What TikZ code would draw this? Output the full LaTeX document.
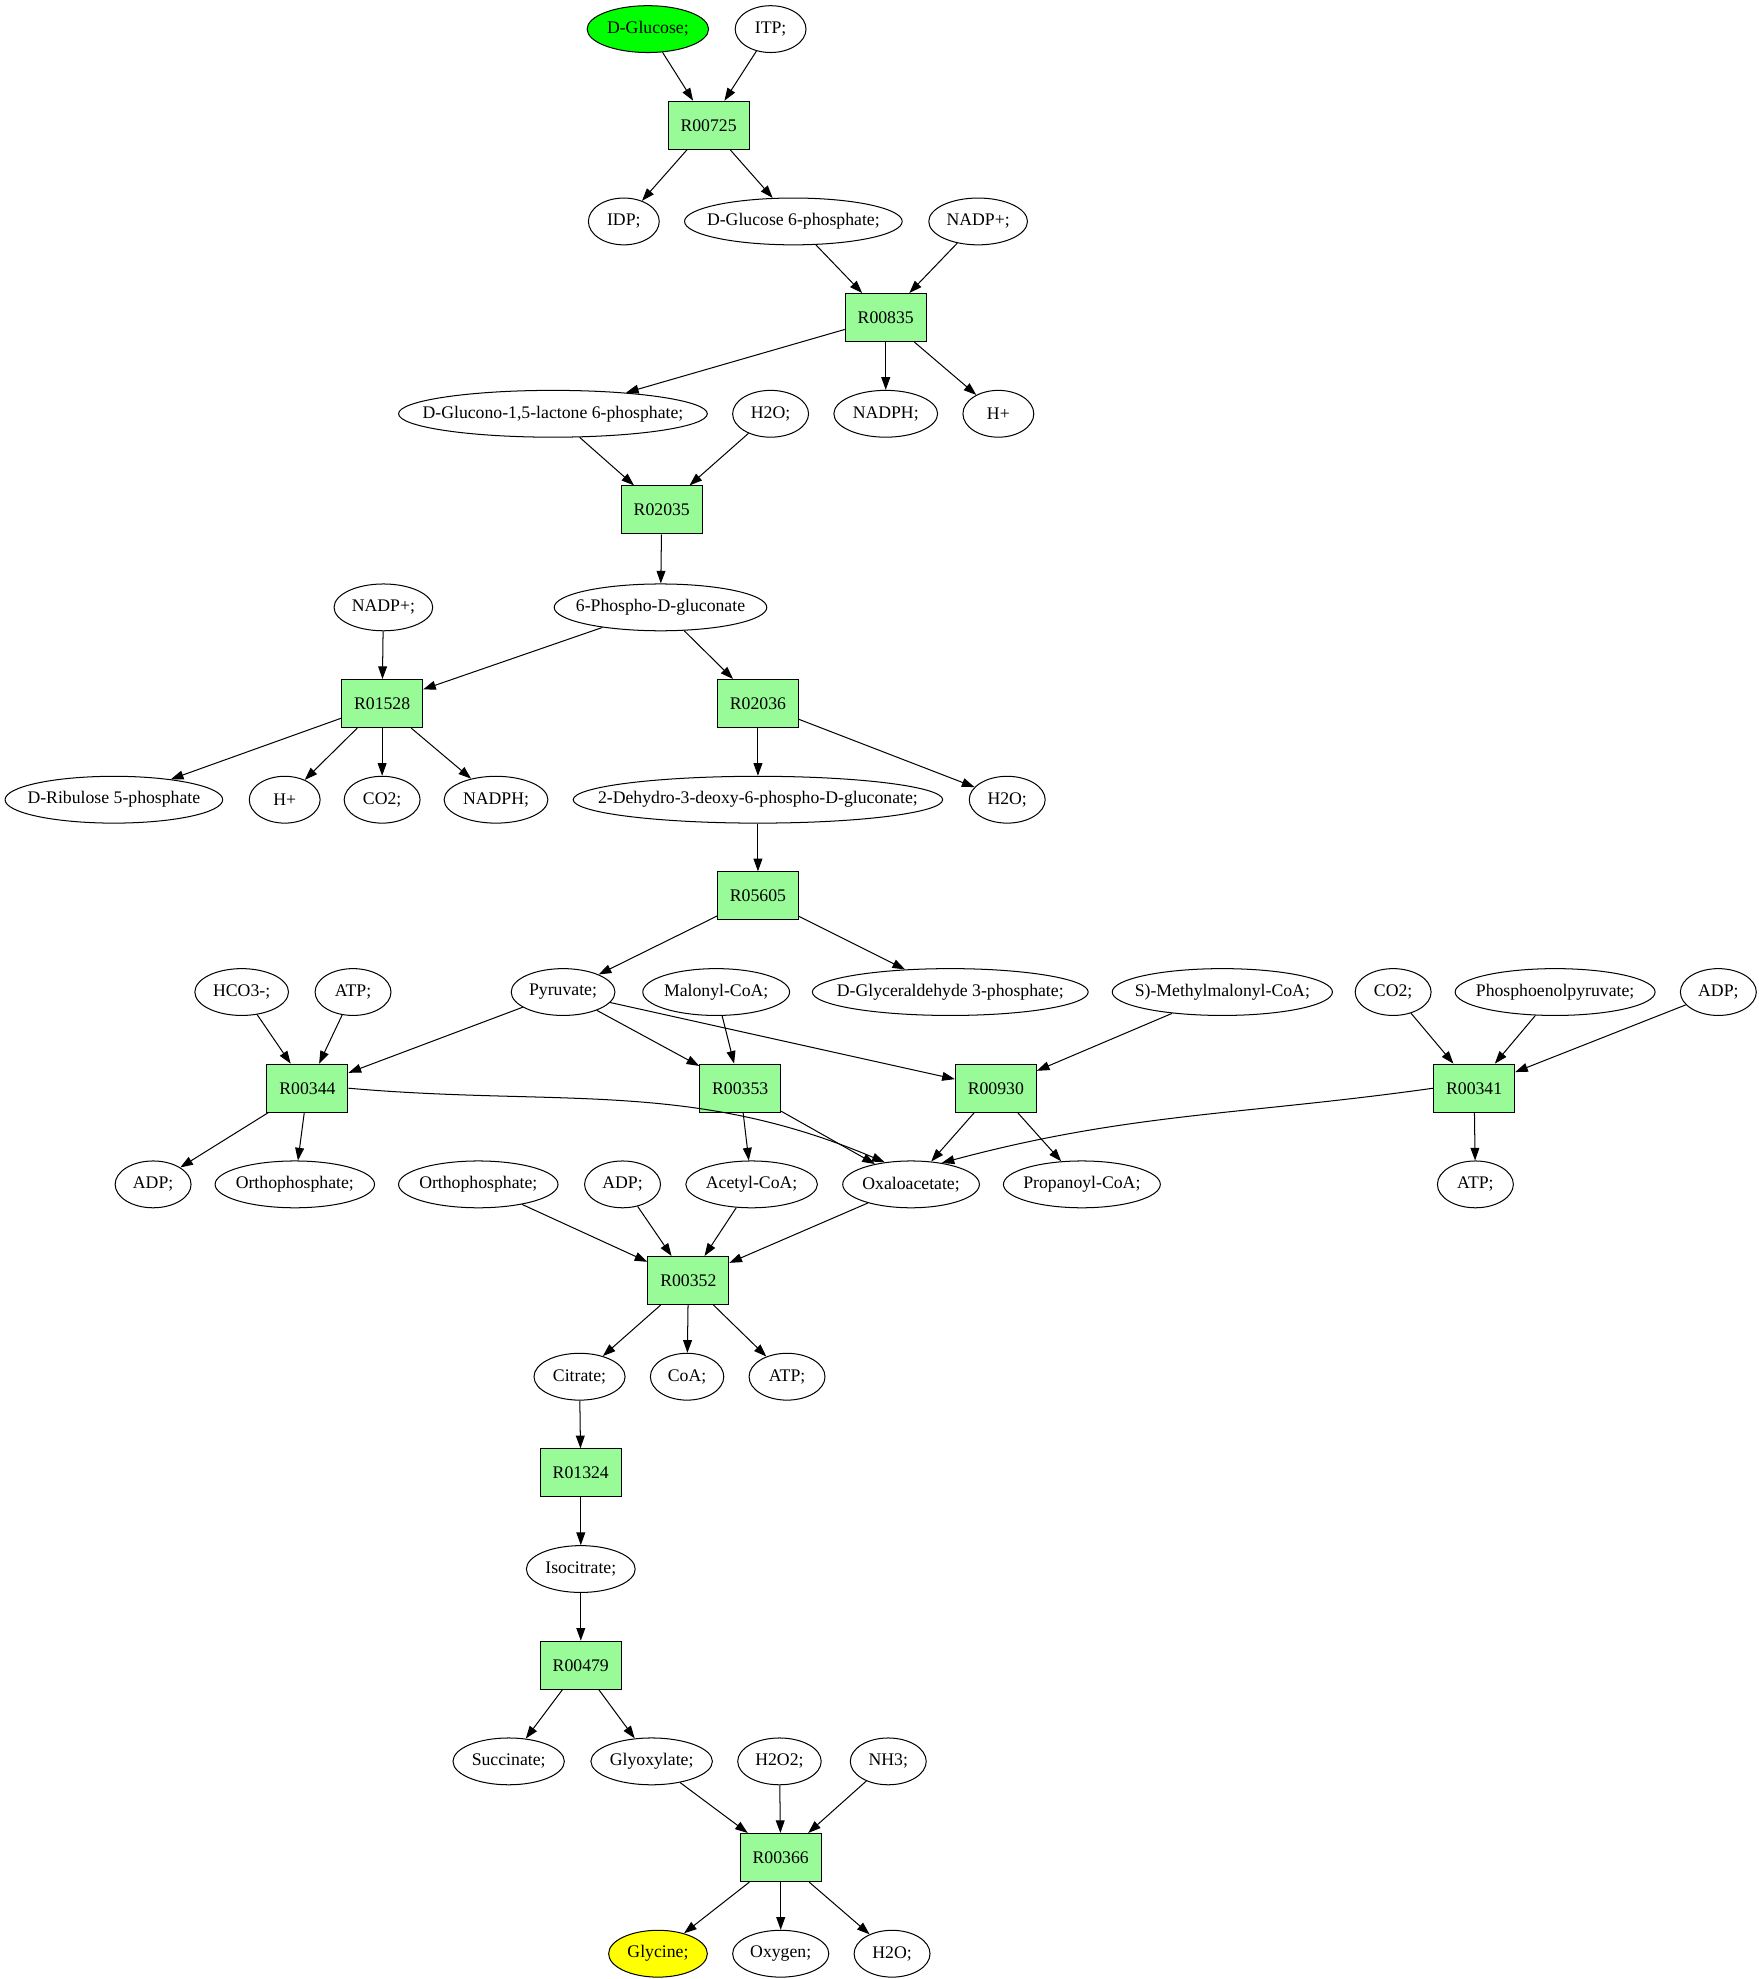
\documentclass[tikz,border=0pt]{standalone}
\usepackage{fontspec}
\setmainfont{Liberation Serif}
\usetikzlibrary{shapes.geometric,arrows.meta,positioning}
\definecolor{rxngreen}{HTML}{98FB98}
\definecolor{startgreen}{HTML}{00FF00}
\definecolor{endyellow}{HTML}{FFFF00}
\tikzset{
    met/.style={ellipse, draw=black, line width=0.8pt, inner sep=0pt,
        minimum height=37pt, font=\fontsize{14}{16}\selectfont},
    rxn/.style={rectangle, draw=black, line width=0.8pt, fill=rxngreen,
        minimum width=64pt, minimum height=38pt, font=\fontsize{14}{16}\selectfont},
    edge/.style={-{Triangle[length=10pt,width=7pt]}, line width=0.8pt}
}
\newcommand{\ctext}[1]{\makebox[0pt]{#1}}

\begin{document}
\begin{tikzpicture}[x=1pt,y=-1pt]
    \useasboundingbox (0,0) rectangle (1390,1564);

    % glucose to 6-phospho-gluconate
    \node[met, minimum width=96pt, fill=startgreen] (glc) at (512,23) {\ctext{D-Glucose;}};
    \node[met, minimum width=56pt] (itp) at (609,23) {\ctext{ITP;}};
    \node[rxn] (r00725) at (560,99) {R00725};
    \node[met, minimum width=56pt] (idp) at (493,175) {\ctext{IDP;}};
    \node[met, minimum width=172pt] (g6p) at (627,175) {\ctext{D-Glucose 6-phosphate;}};
    \node[met, minimum width=78pt] (nadpa) at (773,175) {\ctext{NADP+;}};
    \node[rxn] (r00835) at (700,251) {R00835};
    \node[met, minimum width=244pt] (lac) at (437,327) {\ctext{D-Glucono-1,5-lactone 6-phosphate;}};
    \node[met, minimum width=60pt] (h2oa) at (609,327) {\ctext{H2O;}};
    \node[met, minimum width=82pt] (nadpha) at (700,327) {\ctext{NADPH;}};
    \node[met, minimum width=56pt] (ha) at (789,327) {\ctext{H+}};
    \node[rxn] (r02035) at (523,403) {R02035};
    \node[met, minimum width=78pt] (nadpb) at (303,480) {\ctext{NADP+;}};
    \node[met, minimum width=168pt] (pg) at (522,480) {\ctext{6-Phospho-D-gluconate}};

    % pentose branch and ED branch
    \node[rxn] (r01528) at (302,556) {R01528};
    \node[rxn] (r02036) at (599,556) {R02036};
    \node[met, minimum width=172pt] (ru5p) at (90,632) {\ctext{D-Ribulose 5-phosphate}};
    \node[met, minimum width=56pt] (hb) at (225,632) {\ctext{H+}};
    \node[met, minimum width=60pt] (co2a) at (302,632) {\ctext{CO2;}};
    \node[met, minimum width=82pt] (nadphb) at (392,632) {\ctext{NADPH;}};
    \node[met, minimum width=292pt] (kdpg) at (599,632) {\ctext{2-Dehydro-3-deoxy-6-phospho-D-gluconate;}};
    \node[met, minimum width=60pt] (h2ob) at (796,632) {\ctext{H2O;}};
    \node[rxn] (r05605) at (599,708) {R05605};

    % pyruvate row
    \node[met, minimum width=74pt] (hco3) at (191,784) {\ctext{HCO3-;}};
    \node[met, minimum width=60pt] (atpa) at (279,784) {\ctext{ATP;}};
    \node[met, minimum width=82pt] (pyr) at (445,784) {\ctext{Pyruvate;}};
    \node[met, minimum width=116pt] (malcoa) at (566,784) {\ctext{Malonyl-CoA;}};
    \node[met, minimum width=218pt] (gap) at (751,784) {\ctext{D-Glyceraldehyde 3-phosphate;}};
    \node[met, minimum width=174pt] (mmcoa) at (966,784) {\ctext{S)-Methylmalonyl-CoA;}};
    \node[met, minimum width=60pt] (co2b) at (1101,784) {\ctext{CO2;}};
    \node[met, minimum width=158pt] (pep) at (1229,784) {\ctext{Phosphoenolpyruvate;}};
    \node[met, minimum width=60pt] (adpa) at (1358,784) {\ctext{ADP;}};
    \node[rxn] (r00344) at (243,860) {R00344};
    \node[rxn] (r00353) at (585,860) {R00353};
    \node[rxn] (r00930) at (787,860) {R00930};
    \node[rxn] (r00341) at (1165,860) {R00341};

    % oxaloacetate row
    \node[met, minimum width=60pt] (adpb) at (121,936) {\ctext{ADP;}};
    \node[met, minimum width=126pt] (pia) at (233,936) {\ctext{Orthophosphate;}};
    \node[met, minimum width=126pt] (pib) at (378,936) {\ctext{Orthophosphate;}};
    \node[met, minimum width=60pt] (adpc) at (492,936) {\ctext{ADP;}};
    \node[met, minimum width=104pt] (accoa) at (594,936) {\ctext{Acetyl-CoA;}};
    \node[met, minimum width=108pt] (oaa) at (720,936) {\ctext{Oxaloacetate;}};
    \node[met, minimum width=124pt] (prcoa) at (855,936) {\ctext{Propanoyl-CoA;}};
    \node[met, minimum width=60pt] (atpb) at (1166,936) {\ctext{ATP;}};
    \node[rxn] (r00352) at (544,1012) {R00352};

    % citrate to glycine
    \node[met, minimum width=72pt] (cit) at (458,1088) {\ctext{Citrate;}};
    \node[met, minimum width=58pt] (coa) at (543,1088) {\ctext{CoA;}};
    \node[met, minimum width=60pt] (atpc) at (622,1088) {\ctext{ATP;}};
    \node[rxn] (r01324) at (459,1164) {R01324};
    \node[met, minimum width=86pt] (icit) at (459,1240) {\ctext{Isocitrate;}};
    \node[rxn] (r00479) at (459,1316) {R00479};
    \node[met, minimum width=88pt] (succ) at (402,1392) {\ctext{Succinate;}};
    \node[met, minimum width=96pt] (glx) at (515,1392) {\ctext{Glyoxylate;}};
    \node[met, minimum width=66pt] (hoh) at (616,1392) {\ctext{H2O2;}};
    \node[met, minimum width=60pt] (nh3) at (702,1392) {\ctext{NH3;}};
    \node[rxn] (r00366) at (617,1468) {R00366};
    \node[met, minimum width=78pt, fill=endyellow] (gly) at (520,1544) {\ctext{Glycine;}};
    \node[met, minimum width=76pt] (oxy) at (617,1544) {\ctext{Oxygen;}};
    \node[met, minimum width=60pt] (h2oc) at (705,1544) {\ctext{H2O;}};

    % arrows
    \draw[edge] (glc) -- (r00725);
    \draw[edge] (itp) -- (r00725);
    \draw[edge] (r00725) -- (idp);
    \draw[edge] (r00725) -- (g6p);
    \draw[edge] (g6p) -- (r00835);
    \draw[edge] (nadpa) -- (r00835);
    \draw[edge] (r00835) -- (lac);
    \draw[edge] (r00835) -- (nadpha);
    \draw[edge] (r00835) -- (ha);
    \draw[edge] (lac) -- (r02035);
    \draw[edge] (h2oa) -- (r02035);
    \draw[edge] (r02035) -- (pg);
    \draw[edge] (pg) -- (r01528);
    \draw[edge] (nadpb) -- (r01528);
    \draw[edge] (pg) -- (r02036);
    \draw[edge] (r01528) -- (ru5p);
    \draw[edge] (r01528) -- (hb);
    \draw[edge] (r01528) -- (co2a);
    \draw[edge] (r01528) -- (nadphb);
    \draw[edge] (r02036) -- (kdpg);
    \draw[edge] (r02036) -- (h2ob);
    \draw[edge] (kdpg) -- (r05605);
    \draw[edge] (r05605) -- (pyr);
    \draw[edge] (r05605) -- (gap);
    \draw[edge] (hco3) -- (r00344);
    \draw[edge] (atpa) -- (r00344);
    \draw[edge] (pyr) -- (r00344);
    \draw[edge] (pyr) -- (r00353);
    \draw[edge] (malcoa) -- (r00353);
    \draw[edge] (pyr) -- (r00930);
    \draw[edge] (mmcoa) -- (r00930);
    \draw[edge] (co2b) -- (r00341);
    \draw[edge] (pep) -- (r00341);
    \draw[edge] (adpa) -- (r00341);
    \draw[edge] (r00344) -- (adpb);
    \draw[edge] (r00344) -- (pia);
    \draw[edge] (r00344.east) to[out=-5, in=157] (oaa.140);
    \draw[edge] (r00353) -- (accoa);
    \draw[edge] (r00353) -- (oaa);
    \draw[edge] (r00930) -- (oaa);
    \draw[edge] (r00930) -- (prcoa);
    \draw[edge] (r00341.west) to[out=188, in=15] (oaa.35);
    \draw[edge] (r00341) -- (atpb);
    \draw[edge] (pib) -- (r00352);
    \draw[edge] (adpc) -- (r00352);
    \draw[edge] (accoa) -- (r00352);
    \draw[edge] (oaa) -- (r00352);
    \draw[edge] (r00352) -- (cit);
    \draw[edge] (r00352) -- (coa);
    \draw[edge] (r00352) -- (atpc);
    \draw[edge] (cit) -- (r01324);
    \draw[edge] (r01324) -- (icit);
    \draw[edge] (icit) -- (r00479);
    \draw[edge] (r00479) -- (succ);
    \draw[edge] (r00479) -- (glx);
    \draw[edge] (glx) -- (r00366);
    \draw[edge] (hoh) -- (r00366);
    \draw[edge] (nh3) -- (r00366);
    \draw[edge] (r00366) -- (gly);
    \draw[edge] (r00366) -- (oxy);
    \draw[edge] (r00366) -- (h2oc);

\end{tikzpicture}
\end{document}
